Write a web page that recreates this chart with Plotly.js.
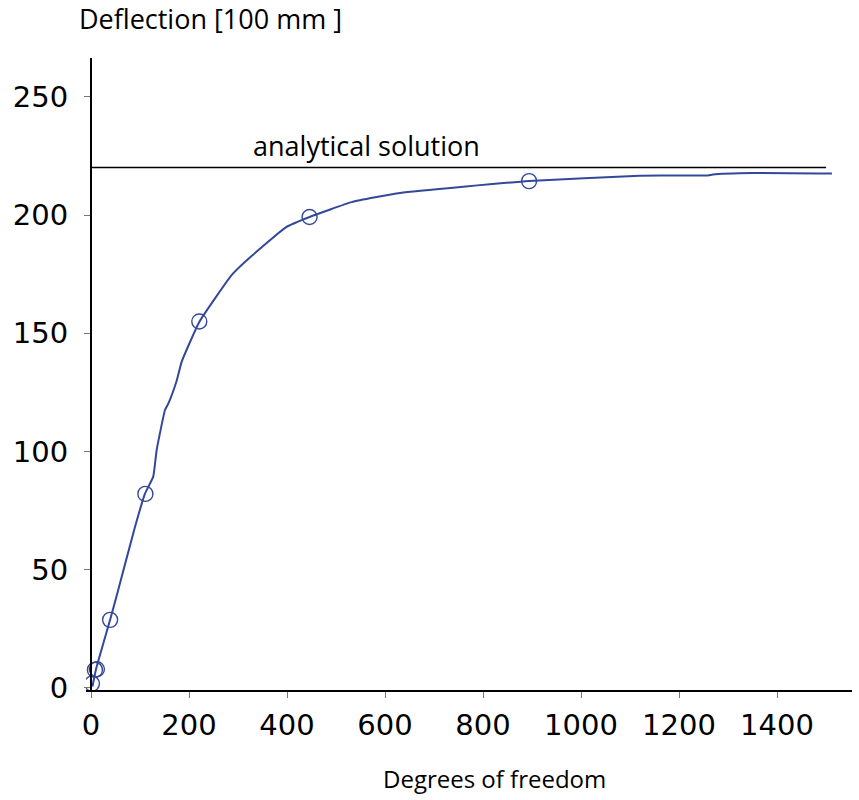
<!DOCTYPE html>
<html>
<head>
<meta charset="utf-8">
<script src="https://cdn.plot.ly/plotly-3.0.1.min.js"></script>
<style>html,body{margin:0;padding:0;background:#fff;}#chart{width:859px;height:800px;}</style>
</head>
<body>
<div id="chart"></div>
<script>
// Fitted curve (degrees of freedom vs deflection)
const curveX = [3, 10, 39, 52, 90, 110, 127, 134, 151, 158, 175, 185, 221, 287, 318, 399, 446, 532, 631, 894, 1120, 1259, 1269, 1351, 1512];
const curveY = [0.5, 7.6, 28.7, 38.6, 68.2, 82, 89.3, 100.6, 117.5, 120.3, 130, 137.9, 154.8, 174.6, 180.9, 195, 199.2, 205.5, 209.4, 214.4, 216.7, 216.8, 217.2, 217.8, 217.6];
// Computed points (circles)
const pointX = [2, 8, 12, 39, 111, 221, 446, 894];
const pointY = [1.7, 7.5, 7.8, 28.7, 82, 155, 199.2, 214.4];
// Analytical solution
const analyticX = [0, 1500];
const analyticY = [220.2, 220.2];
const xTicks = [0, 200, 400, 600, 800, 1000, 1200, 1400];
const yTicks = [0, 50, 100, 150, 200, 250];

const blue = '#34489a';
const xRange = [-10.2, 1553];
const zeroPos = (0 - xRange[0]) / (xRange[1] - xRange[0]);

const traces = [
  {x: analyticX, y: analyticY, mode: 'lines', line: {color: '#000', width: 1.5}, hoverinfo: 'skip'},
  {x: curveX, y: curveY, mode: 'lines', line: {color: blue, width: 2, shape: 'spline', smoothing: 0.4}},
  {x: pointX, y: pointY, mode: 'markers', marker: {symbol: 'circle-open', size: 15, color: blue, line: {color: blue, width: 1.4}}}
];

const tickFont = {family: 'DejaVu Sans, Verdana, sans-serif', size: 29, color: '#000'};
const layout = {
  width: 859, height: 800,
  margin: {l: 86, r: 7, t: 58, b: 110},
  paper_bgcolor: '#fff', plot_bgcolor: '#fff',
  showlegend: false,
  xaxis: {
    range: xRange, tickvals: xTicks, ticktext: xTicks.map(String),
    showgrid: false, zeroline: false, showline: true, linecolor: '#000', linewidth: 2,
    ticks: 'outside', ticklen: 6, tickwidth: 1, tickcolor: '#777',
    tickfont: tickFont, ticklabelstandoff: 2
  },
  yaxis: {
    range: [-1, 266.5], tickvals: yTicks, ticktext: yTicks.map(String),
    anchor: 'free', position: zeroPos,
    showgrid: false, zeroline: false, showline: true, linecolor: '#000', linewidth: 2,
    ticks: 'outside', ticklen: 6, tickwidth: 1, tickcolor: '#777',
    tickfont: tickFont, ticklabelstandoff: 10
  },
  annotations: [
    {text: 'Deflection [100 mm ]', xref: 'paper', yref: 'paper', x: -0.012, y: 1, xanchor: 'left', yanchor: 'bottom', yshift: 19, showarrow: false,
     font: {family: 'Open Sans, sans-serif', size: 27, color: '#000'}},
    {text: 'Degrees of freedom', xref: 'paper', yref: 'paper', x: 0.533, y: 0, xanchor: 'center', yanchor: 'middle', yshift: -88, showarrow: false,
     font: {family: 'Open Sans, sans-serif', size: 24, color: '#000'}},
    {text: 'analytical solution', xref: 'x', yref: 'y', x: 563, y: 220.2, xanchor: 'center', yanchor: 'bottom', yshift: 1, showarrow: false,
     font: {family: 'Open Sans, sans-serif', size: 27, color: '#000'}}
  ]
};
Plotly.newPlot('chart', traces, layout, {displayModeBar: false, staticPlot: true});
</script>
</body>
</html>
